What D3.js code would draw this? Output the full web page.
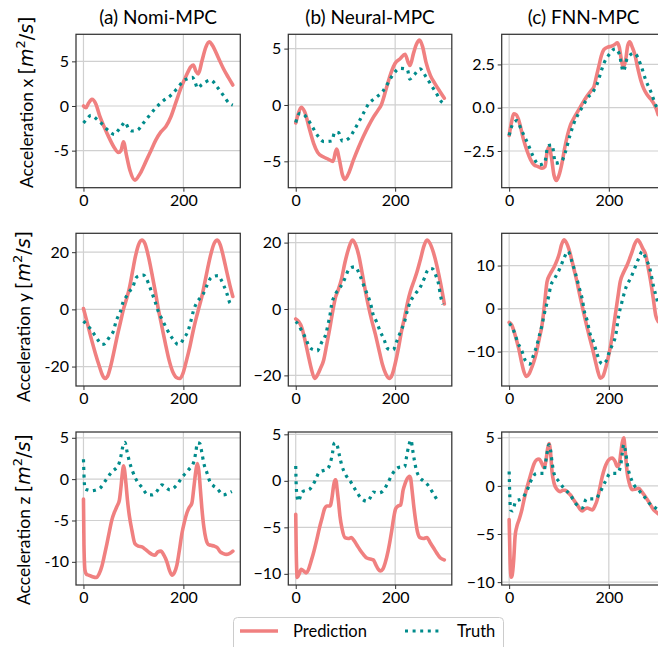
<!DOCTYPE html>
<html><head><meta charset="utf-8">
<script src="https://cdn.jsdelivr.net/npm/d3@7"></script>
<style>body{margin:0;background:#fff} svg{display:block}</style>
</head><body><svg id="c" width="658" height="647"></svg>
<script>
// ---------------- DATA ----------------
const methods = ["(a) Nomi-MPC", "(b) Neural-MPC", "(c) FNN-MPC"];
const axisNames = ["x", "y", "z"];
const seriesNames = ["Prediction", "Truth"];
const xTicks = [0, 200];
const xExtent = [0, 299];

// Each series: [timestep, acceleration]
const nomiXPred = [[0,0.0],[5,-0.2],[10,0.3],[17,0.75],[25,0.2],[33,-1.2],[42,-2.4],[50,-3.4],[60,-4.5],[70,-5.2],[75,-5.0],[80,-4.0],[86,-5.5],[93,-7.2],[103,-8.3],[113,-7.6],[125,-6.2],[135,-5.0],[145,-3.8],[155,-2.9],[165,-2.3],[175,-1.2],[185,0.4],[195,2.0],[205,3.3],[215,4.4],[220,4.6],[225,3.9],[230,3.6],[237,5.0],[245,6.6],[252,7.2],[258,6.8],[270,5.4],[280,4.2],[290,3.2],[299,2.35]];
const nomiXTruth = [[0,-1.9],[5,-1.6],[15,-1.05],[25,-1.4],[35,-1.9],[45,-2.5],[55,-3.0],[62,-3.2],[70,-2.7],[78,-2.1],[83,-1.8],[90,-2.5],[98,-2.8],[108,-2.7],[120,-1.9],[133,-1.0],[145,-0.2],[160,0.6],[175,1.2],[188,2.0],[200,2.8],[210,3.1],[218,3.2],[224,2.6],[228,2.0],[237,2.4],[255,2.9],[268,2.1],[280,1.2],[292,0.3],[299,0.1]];
const neuralXPred = [[0,-1.6],[5,-0.8],[11,-0.2],[18,-0.6],[28,-2.2],[36,-3.4],[44,-4.2],[55,-4.6],[65,-4.8],[75,-5.0],[82,-3.9],[88,-4.9],[94,-6.2],[99,-6.6],[106,-6.1],[116,-4.9],[126,-3.8],[136,-2.8],[146,-1.9],[156,-1.1],[165,-0.5],[172,0.0],[183,1.6],[192,2.9],[200,3.7],[210,4.1],[220,4.5],[226,3.8],[230,3.5],[237,4.6],[243,5.4],[249,5.75],[255,5.2],[262,3.8],[271,2.6],[280,1.9],[290,1.2],[299,0.6]];
const neuralXTruth = [[0,-1.55],[8,-0.75],[15,-0.8],[23,-1.2],[33,-1.9],[43,-2.65],[57,-3.25],[72,-3.2],[79,-2.4],[86,-2.45],[94,-3.2],[108,-2.9],[118,-2.2],[127,-1.5],[136,-0.75],[146,0.05],[161,0.65],[175,1.2],[185,1.9],[195,2.65],[210,3.25],[220,3.2],[225,3.1],[229,2.3],[238,2.65],[250,3.2],[262,2.5],[272,1.8],[282,1.1],[293,0.3],[299,0.1]];
const fnnXPred = [[0,-1.6],[5,-0.8],[9,-0.35],[14,-0.4],[19,-0.7],[29,-1.85],[36,-2.5],[43,-3.0],[50,-3.3],[58,-3.4],[66,-3.5],[72,-3.4],[76,-2.6],[80,-2.25],[85,-2.9],[90,-3.9],[95,-4.2],[100,-3.9],[106,-3.2],[111,-2.4],[117,-1.6],[123,-1.0],[130,-0.6],[138,-0.2],[147,0.25],[157,0.7],[165,1.0],[170,1.2],[175,1.8],[180,2.4],[185,3.0],[190,3.35],[198,3.5],[205,3.55],[212,3.65],[217,3.75],[221,3.5],[225,2.8],[229,2.3],[234,2.8],[238,3.6],[242,3.8],[247,3.5],[252,3.1],[258,2.3],[264,1.6],[270,1.1],[277,0.75],[284,0.5],[290,0.25],[295,-0.05],[299,-0.4]];
const fnnXTruth = [[0,-1.6],[8,-0.9],[16,-0.75],[24,-1.25],[33,-1.8],[40,-2.25],[48,-2.8],[60,-3.3],[71,-3.2],[78,-2.2],[86,-2.15],[93,-3.2],[105,-3.1],[113,-2.55],[122,-1.6],[130,-0.9],[138,-0.4],[147,0.05],[157,0.55],[169,0.95],[177,1.4],[183,1.95],[190,2.55],[200,3.05],[213,3.4],[221,3.1],[229,2.1],[237,2.85],[251,3.15],[265,2.4],[274,1.6],[284,0.95],[295,0.1],[299,-0.1]];

const nomiYPred = [[0,0.3],[8,-5],[16,-10.5],[24,-15.5],[32,-20],[38,-23],[43,-24.2],[48,-23.5],[55,-19.5],[62,-14],[68,-9],[74,-4.5],[80,0],[86,3.5],[92,7.5],[98,13],[104,18.5],[110,22.5],[117,24.2],[123,23],[130,18.5],[137,12.5],[144,6],[150,0],[157,-6],[164,-12],[171,-17.5],[178,-21.5],[186,-23.8],[193,-24.2],[199,-22.5],[206,-18],[213,-13],[219,-8],[225,-3.5],[231,0.5],[237,4.5],[243,9.5],[250,15.5],[256,20],[262,23.2],[268,24.2],[274,22.5],[280,18.5],[287,13],[293,8.5],[299,4.5]];
const nomiYTruth = [[0,-4.1],[7,-5.4],[13,-6.6],[19,-8.1],[25,-9.6],[31,-11.2],[37,-12.3],[43,-12],[48,-10.7],[54,-9.2],[60,-7.6],[65,-4.3],[70,-2.2],[74,-0.8],[79,2.4],[84,4.0],[88,5.2],[94,6.7],[99,7.9],[105,11.0],[112,11.8],[120,12.0],[126,10.8],[130,9.1],[137,5.8],[143,2.9],[150,-0.8],[158,-3.7],[167,-6.9],[177,-9.9],[183,-11.2],[189,-12.3],[195,-11.8],[200,-10.4],[210,-7.2],[215,-4.1],[220,-0.6],[227,2.4],[233,3.9],[239,5.2],[247,8.3],[255,11.0],[262,11.6],[270,11.8],[275,10.5],[280,8.7],[287,5.6],[293,2.3],[299,1.5]];
const neuralYPred = [[0,-3],[6,-3.8],[12,-5.5],[18,-9],[25,-13.8],[31,-17.8],[38,-20.9],[44,-19.8],[50,-17.8],[56,-15.5],[62,-11],[68,-6.2],[74,-1],[80,3.5],[86,6],[92,9],[99,14],[106,18],[114,20.8],[120,19.5],[127,16],[134,10.5],[140,5.5],[146,1],[153,-3.5],[160,-7.5],[167,-12],[174,-16.5],[181,-19.5],[188,-20.9],[194,-19.8],[200,-16.5],[207,-11.5],[213,-6.5],[219,-2.5],[225,2.0],[231,5.5],[238,8.5],[244,11.2],[251,15],[258,19],[264,20.8],[270,19.8],[277,17],[284,13],[291,8],[299,1.5]];
const neuralYTruth = [[0,-3.8],[6,-4.8],[11,-6.3],[20,-8.8],[28,-11.6],[36,-12.3],[43,-12.6],[52,-10.1],[61,-7.3],[65,-4.6],[69,-1.8],[72,1.2],[79,4.2],[89,6.4],[98,8.9],[106,11.7],[112,12.5],[119,12.7],[129,10.2],[136,7.4],[143,4.7],[151,1.4],[155,-1.3],[163,-4.0],[170,-6.8],[178,-9.3],[184,-11.8],[190,-12.3],[196,-12.3],[203,-9.8],[211,-6.8],[219,-3.8],[224,-0.8],[230,2.0],[240,4.4],[251,6.7],[259,9.4],[265,11.6],[271,12.2],[276,12],[281,10.4],[288,7.0],[291,4.2],[296,1.4]];
const fnnYPred = [[0,-3.2],[5,-3.8],[9,-5],[14,-7],[19,-9.2],[25,-12.5],[30,-14.8],[35,-15.8],[40,-15.2],[45,-13.8],[50,-12.2],[55,-10],[60,-7.2],[66,-3.8],[71,1],[76,6.2],[82,8],[90,9.6],[96,11.2],[100,12.5],[105,14.8],[110,16],[115,15.3],[120,13.8],[125,11.6],[130,9.2],[136,6.3],[142,3],[149,-0.7],[156,-4.2],[162,-7],[167,-9.2],[173,-12.2],[178,-14.6],[183,-16.2],[188,-15.8],[192,-14.5],[197,-12.3],[203,-9],[208,-5.5],[213,-1.5],[218,2.5],[223,6.3],[230,8.5],[237,10.2],[242,11.7],[247,13.3],[252,15],[258,16],[263,15.2],[268,14],[274,12.5],[279,9.5],[284,6.3],[289,2.5],[294,-1.5],[299,-3]];
const fnnYTruth = [[0,-3.5],[3,-3.8],[11,-5.7],[17,-7.8],[26,-10],[33,-12.2],[41,-12.9],[49,-10.8],[55,-8.8],[61,-6.1],[66,-3.8],[70,-1.5],[75,0.9],[80,3.2],[83,5.1],[91,6.9],[102,9.4],[110,11.7],[118,13.3],[126,10.9],[133,8.2],[140,5.1],[147,2.0],[151,-0.7],[157,-3.0],[162,-5.7],[169,-7.7],[175,-10],[182,-12.3],[188,-12.9],[194,-12.3],[200,-10.4],[207,-8.4],[214,-6.1],[217,-3.8],[220,-1.5],[225,0.9],[230,3.2],[235,5.1],[244,7.1],[252,9.4],[260,11.7],[267,13.3],[274,11.7],[283,9.0],[289,5.5],[296,2.4],[299,1.0]];

const nomiZPred = [[0,-2.4],[1,-8],[3,-11],[6,-11.5],[10,-11.6],[18,-11.8],[26,-11.9],[31,-11.5],[37,-10.5],[42,-9.2],[47,-7.8],[52,-6.3],[57,-4.9],[62,-4.0],[67,-3.3],[72,-2.5],[75,-1.0],[78,0.8],[80,1.6],[82,1.2],[85,-0.5],[88,-2.5],[92,-4.5],[97,-6.2],[103,-7.8],[110,-8.1],[117,-8.2],[124,-8.5],[130,-8.8],[137,-9.1],[143,-9.2],[149,-8.8],[155,-8.7],[161,-9.2],[167,-10],[172,-11],[177,-11.6],[182,-11.3],[187,-10.4],[192,-8.6],[197,-6.6],[202,-5.2],[207,-4.1],[212,-3.4],[217,-2.9],[221,-1.0],[225,1.0],[228,1.9],[231,1.0],[234,-1.2],[237,-3.5],[241,-5.8],[245,-7.2],[250,-7.9],[255,-8.0],[262,-8.1],[268,-8.3],[274,-8.8],[280,-9.0],[286,-9.1],[292,-9.0],[299,-8.7]];
const nomiZTruth = [[0,2.4],[1,0.6],[3,-1.2],[8,-1.3],[16,-1.4],[25,-1.3],[33,-1.1],[45,-0.1],[57,0.9],[70,1.7],[75,2.8],[79,4.0],[83,4.45],[87,3.4],[92,2.1],[98,1.0],[105,0.0],[117,-1.0],[130,-1.9],[138,-1.9],[145,-1.6],[157,-0.7],[165,-1.0],[173,-1.3],[180,-1.1],[187,-0.7],[197,0.2],[210,1.1],[221,2.1],[225,3.3],[228,4.4],[233,4.3],[237,3.2],[241,1.9],[247,0.8],[253,-0.3],[260,-0.8],[267,-1.1],[280,-1.9],[290,-1.7],[297,-1.5]];
const neuralZPred = [[0,-3.6],[1,-7.5],[3,-10.4],[7,-10],[11,-9.5],[16,-9.7],[21,-9.9],[26,-9.5],[30,-8.8],[35,-7.9],[42,-6.4],[48,-5.0],[53,-4.0],[58,-3.0],[63,-2.7],[69,-2.7],[73,-1.8],[76,-0.6],[79,0.1],[81,0.1],[83,-0.8],[86,-2.2],[89,-3.8],[93,-5.1],[99,-6.1],[106,-6.2],[112,-6.1],[117,-6.4],[123,-6.9],[129,-7.4],[136,-7.9],[143,-8.3],[150,-8.4],[156,-8.5],[161,-9.0],[166,-9.5],[170,-9.7],[175,-9.5],[180,-8.8],[186,-7.5],[193,-5.4],[197,-4.0],[201,-3.0],[206,-2.7],[211,-2.6],[216,-1.0],[220,-0.3],[224,0.2],[229,0.5],[231,0.3],[234,-1.0],[237,-2.5],[241,-4.2],[245,-5.5],[250,-6.1],[257,-6.2],[264,-6.1],[270,-6.6],[277,-7.2],[284,-7.8],[291,-8.3],[299,-8.5]];
const neuralZTruth = [[0,1.6],[1,-0.5],[3,-1.8],[5,-2.2],[13,-1.2],[28,-0.9],[39,0.0],[47,0.9],[64,1.3],[70,2.0],[74,3.0],[77,4.0],[80,4.1],[84,3.7],[88,2.7],[93,1.6],[100,0.7],[111,-0.15],[121,-1.05],[133,-1.95],[144,-2.2],[150,-1.8],[156,-1.2],[165,-1.3],[173,-1.2],[185,-0.25],[194,0.7],[208,1.45],[219,1.5],[223,2.6],[227,3.7],[232,4.4],[235,3.4],[242,1.3],[250,0.3],[257,0.0],[265,-0.4],[276,-1.3],[286,-2.2]];
const fnnZPred = [[0,-3.5],[2,-8],[4,-9.5],[6,-9.3],[9,-7.8],[12,-5.2],[15,-4.3],[20,-3.5],[25,-2.6],[30,-1.4],[35,-0.3],[40,0.6],[45,1.5],[50,2.3],[55,2.7],[60,2.8],[65,2.4],[70,1.9],[74,2.7],[77,3.8],[80,4.4],[83,3.5],[86,1.5],[90,0.3],[95,-0.3],[103,-0.6],[108,-0.45],[113,-0.45],[118,-0.7],[123,-0.95],[130,-1.5],[137,-2.0],[142,-2.4],[147,-2.6],[152,-2.4],[157,-2.3],[162,-2.4],[167,-2.5],[172,-2.1],[177,-1.4],[182,-0.2],[187,1.0],[192,1.9],[197,2.5],[202,2.8],[207,2.9],[212,2.6],[217,2.0],[221,2.3],[224,3.4],[227,4.5],[230,5.0],[233,3.5],[237,1.3],[241,0.3],[247,-0.4],[253,-0.35],[260,-0.25],[266,-0.6],[271,-0.95],[278,-1.5],[284,-2.0],[290,-2.5],[297,-2.8],[299,-2.9]];
const fnnZTruth = [[0,1.5],[1,-0.5],[3,-2.5],[7,-2.6],[13,-1.6],[26,-1.3],[36,-0.45],[43,0.45],[55,1.3],[69,1.3],[73,2.4],[76,3.4],[80,4.3],[83,3.75],[86,2.5],[90,1.3],[100,0.45],[110,-0.25],[123,-0.95],[133,-1.8],[147,-2.3],[155,-1.35],[173,-1.35],[183,-0.6],[193,0.45],[203,1.3],[217,1.3],[224,2.2],[227,3.4],[230,4.3],[234,3.4],[237,2.3],[247,0.45],[260,-0.45],[271,-1.1],[283,-1.9],[294,-2.3],[299,-2.5]];

// y-axis limits and ticks per row (x,y,z) and column (Nomi, Neural, FNN)
const yLimits = [
  [[-9.15, 8.03], [-7.34, 6.27], [-4.62, 4.24]],
  [[-26.8, 26.6], [-23.2, 22.8], [-18.0, 17.5]],
  [[-12.8, 5.7], [-11.2, 5.25], [-10.3, 5.6]]
];
const yTicks = [
  [[-5, 0, 5], [-5, 0, 5], [-2.5, 0, 2.5]],
  [[-20, 0, 20], [-20, 0, 20], [-10, 0, 10]],
  [[-10, -5, 0, 5], [-10, -5, 0, 5], [-10, -5, 0, 5]]
];

const series = [
  [[nomiXPred, nomiXTruth], [neuralXPred, neuralXTruth], [fnnXPred, fnnXTruth]],
  [[nomiYPred, nomiYTruth], [neuralYPred, neuralYTruth], [fnnYPred, fnnYTruth]],
  [[nomiZPred, nomiZTruth], [neuralZPred, neuralZTruth], [fnnZPred, fnnZTruth]]
];

// ---------------- LAYOUT / STYLE ----------------
const colBox = [[76, 240.3], [288.3, 451.8], [501.7, 665.6]];
const rowBox = [[34.3, 187.7], [233.3, 386], [432, 585]];
const labelPos = [[33, 188], [29.5, 402], [29.5, 605]];  // baseline x, start y
const predColor = "#F08080", truthColor = "#008B8B";
const gridColor = "#d0d0d0", spineColor = "#333";
const FONT = "Lato, 'Open Sans', sans-serif";
const MATH = "'DejaVu Sans', sans-serif";

const svg = d3.select("#c").style("font-family", FONT);
svg.append("rect").attr("width", 658).attr("height", 647).attr("fill", "#fff");

const pad = (xExtent[1] - xExtent[0]) * 0.05;

for (let r = 0; r < 3; r++) {
  for (let c = 0; c < 3; c++) {
    const [x0, x1] = colBox[c], [y0, y1] = rowBox[r];
    const xs = d3.scaleLinear().domain([xExtent[0] - pad, xExtent[1] + pad]).range([x0, x1]);
    const ys = d3.scaleLinear().domain(yLimits[r][c]).range([y1, y0]);
    const g = svg.append("g");
    const minus = c === 0 ? "-" : "\u2212";
    const fmt = v => {
      const s = (r === 0 && c === 2) ? d3.format(".1f")(Math.abs(v)) : d3.format("d")(Math.abs(v));
      return (v < 0 ? minus : "") + s;
    };

    // grid
    g.append("g").selectAll("line").data(xTicks).join("line")
      .attr("x1", d => xs(d)).attr("x2", d => xs(d)).attr("y1", y0).attr("y2", y1)
      .attr("stroke", gridColor).attr("stroke-width", 1.2);
    g.append("g").selectAll("line").data(yTicks[r][c]).join("line")
      .attr("x1", x0).attr("x2", x1).attr("y1", d => ys(d)).attr("y2", d => ys(d))
      .attr("stroke", gridColor).attr("stroke-width", 1.2);

    // lines
    const line = d3.line().x(d => xs(d[0])).y(d => ys(d[1])).curve(d3.curveMonotoneX);
    g.append("path").datum(series[r][c][0]).attr("d", line)
      .attr("fill", "none").attr("stroke", predColor).attr("stroke-width", 3.6)
      .attr("stroke-linejoin", "round").attr("stroke-linecap", "round");
    g.append("path").datum(series[r][c][1]).attr("d", line)
      .attr("fill", "none").attr("stroke", truthColor).attr("stroke-width", 3.2)
      .attr("stroke-dasharray", "3,4.6");

    // axes
    const ax = g.append("g").attr("transform", `translate(0,${y1})`)
      .call(d3.axisBottom(xs).tickValues(xTicks).tickSize(4).tickPadding(3).tickFormat(d3.format("d")));
    const ay = g.append("g").attr("transform", `translate(${x0},0)`)
      .call(d3.axisLeft(ys).tickValues(yTicks[r][c]).tickSize(4).tickPadding(3).tickFormat(fmt));
    [ax, ay].forEach(a => {
      a.select(".domain").remove();
      a.selectAll(".tick line").attr("stroke", spineColor).attr("stroke-width", 1);
      a.selectAll(".tick text").attr("fill", "#000").style("font-size", "16px").style("font-family", FONT);
    });

    // spines
    g.append("rect").attr("x", x0).attr("y", y0).attr("width", x1 - x0).attr("height", y1 - y0)
      .attr("fill", "none").attr("stroke", spineColor).attr("stroke-width", 1.25);

    if (r === 0) {
      svg.append("text").attr("x", (x0 + x1) / 2).attr("y", 24).attr("text-anchor", "middle")
        .style("font-size", "19px").attr("fill", "#000").text(methods[c]);
    }
    if (c === 0) {
      const [lx, ly] = labelPos[r];
      const t = svg.append("text").attr("transform", `translate(${lx},${ly}) rotate(-90)`)
        .attr("text-anchor", "start").style("font-size", "17.5px").attr("fill", "#000");
      t.append("tspan").text(`Acceleration ${axisNames[r]} `);
      t.append("tspan").style("font-family", MATH).style("font-size", "19px").text("[");
      t.append("tspan").style("font-family", MATH).style("font-style", "italic").style("font-size", "19px").text("m");
      t.append("tspan").attr("dy", -8).style("font-family", MATH).style("font-size", "13px").text("2");
      t.append("tspan").attr("dy", 8).style("font-family", MATH).style("font-size", "19px").text("/");
      t.append("tspan").style("font-family", MATH).style("font-style", "italic").style("font-size", "19px").text("s");
      t.append("tspan").style("font-family", MATH).style("font-size", "19px").text("]");
    }
  }
}

// legend
const lg = svg.append("g");
lg.append("rect").attr("x", 233.5).attr("y", 617.5).attr("width", 270).attr("height", 45).attr("rx", 4)
  .attr("fill", "#fff").attr("stroke", "#cccccc").attr("stroke-width", 1);
const legendItems = [
  {name: seriesNames[0], color: predColor, dash: null, w: 3.6, x: 240, tx: 293},
  {name: seriesNames[1], color: truthColor, dash: "3,4.6", w: 3.2, x: 405, tx: 457}
];
legendItems.forEach(it => {
  lg.append("line").attr("x1", it.x).attr("x2", it.x + 38).attr("y1", 631).attr("y2", 631)
    .attr("stroke", it.color).attr("stroke-width", it.w).attr("stroke-dasharray", it.dash);
  lg.append("text").attr("x", it.tx).attr("y", 637).style("font-size", "16.5px").attr("fill", "#000").text(it.name);
});
</script></body></html>
